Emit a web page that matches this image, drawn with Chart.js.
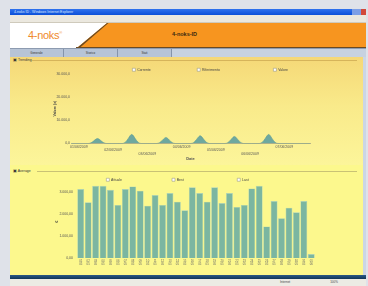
<!DOCTYPE html>
<html>
<head>
<meta charset="utf-8">
<script src="https://cdn.jsdelivr.net/npm/chart.js@4.4.1/dist/chart.umd.min.js"></script>
<style>
  html, body { margin: 0; padding: 0; }
  body { width: 368px; height: 286px; background: #dfe2e9; position: relative; overflow: hidden; font-family: "Liberation Sans", Arial, sans-serif; }
  .abs { position: absolute; }
  #titlebar { left: 10px; top: 9px; width: 356px; height: 6px; background: linear-gradient(#2f72ee, #0b4fd8); color: #dfe8ff; font-size: 3.5px; line-height: 6px; }
  #titlebar span { margin-left: 4px; }
  #winbtns { right: 0; top: 0; height: 6px; width: 14px; background: linear-gradient(90deg, #7d9fe6 0 66%, #d2493a 66%); }
  #toolbar { left: 10px; top: 15px; width: 356px; height: 8px; background: #ebe8df; border-bottom: 1px solid #cfcabc; box-sizing: border-box; }
  #header { left: 10px; top: 23px; width: 356px; height: 25px; background: #ffffff; overflow: hidden; }
  #orange { left: 0; top: 0; width: 356px; height: 24px; background: #f7951f; clip-path: polygon(97px 0, 356px 0, 356px 24px, 68px 24px); }
  #diag { left: 0; top: 0; width: 356px; height: 25px; background: #6b4a22; clip-path: polygon(97px 0, 98.5px 0, 69.5px 25px, 67px 25px); }
  #hline { left: 66px; top: 24px; width: 290px; height: 1px; background: #6b4a22; }
  #logo { left: 18px; top: 6px; color: #ef8a2c; font-size: 11px; letter-spacing: -0.3px; }
  #logo sup { font-size: 4px; }
  #apptitle { left: 162px; top: 7.5px; color: #3a2a10; font-size: 5.5px; font-weight: bold; }
  #tabs { left: 10px; top: 48px; width: 356px; height: 9px; background: #c7d2e0; border-top: 1px solid #8d9bb0; box-sizing: border-box; }
  .tab { top: 0; height: 8px; width: 53px; border-right: 1px solid #8594aa; background: #b7c4d6; color: #333; font-size: 3px; line-height: 8px; text-align: center; }
  #panel { left: 10px; top: 57px; width: 353px; height: 218px; background: #fcf88d; }
  #trend { left: 0; top: 0; width: 353px; height: 108px; background: linear-gradient(#f5d877, #f9ea8a 45%, #fcf59a); }
  .sect { font-size: 3.5px; color: #333; }
  .sline { height: 1px; }
  #scroll { left: 363px; top: 57px; width: 3px; height: 218px; background: #cbd6e6; }
  #bluebar { left: 10px; top: 275px; width: 356px; height: 4px; background: linear-gradient(#2a5a86, #0f3558); }
  #status { left: 10px; top: 279px; width: 356px; height: 7px; background: #ecebe4; font-size: 3px; color: #444; line-height: 7px; }
  canvas { display: block; }
</style>
</head>
<body>
<div id="titlebar" class="abs"><span>4-noks ID - Windows Internet Explorer</span><div id="winbtns" class="abs"></div></div>
<div id="toolbar" class="abs"></div>
<div id="header" class="abs">
  <div id="orange" class="abs"></div>
  <div id="diag" class="abs"></div>
  <div id="hline" class="abs"></div>
  <div id="logo" class="abs">4-noks<sup>®</sup></div>
  <div id="apptitle" class="abs">4-noks-ID</div>
</div>
<div id="tabs" class="abs">
  <div class="tab abs" style="left:0">Generale</div>
  <div class="tab abs" style="left:54px">Storico</div>
  <div class="tab abs" style="left:108px">Stati</div>
</div>
<div id="panel" class="abs">
  <div id="trend" class="abs"></div>
  <div class="sect abs" style="left:3px; top:1px">&#9635; Trending</div>
  <div class="sline abs" style="left:22px; top:3px; width:325px; background:#d6b45a"></div>
  <div class="sect abs" style="left:3px; top:112px">&#9635; Average</div>
  <div class="sline abs" style="left:27px; top:114px; width:320px; background:#c9c275"></div>
  <div class="abs" style="left:30px; top:10.25px; width:290px; height:96px"><canvas id="trendChart" width="290" height="96"></canvas></div>
  <div class="abs" style="left:30px; top:120.25px; width:290px; height:95px"><canvas id="avgChart" width="290" height="95"></canvas></div>
</div>
<div id="scroll" class="abs"></div>
<div id="bluebar" class="abs"></div>
<div id="status" class="abs"><span style="margin-left:270px">Internet</span><span style="margin-left:40px">100%</span></div>

<script>
// --- dati trend (energia giornaliera, campioni orari) ---
const trendDays = ['01/06/2009', '02/06/2009', '03/06/2009', '04/06/2009', '05/06/2009', '06/06/2009', '07/06/2009'];
const trendHours = [6.5, 8.5, 10.5, 12, 13, 14, 15.5, 17.5, 19.5];
const day1 = [0, 300, 1150, 1900, 2160, 1950, 1200, 320, 0];
const day2 = [0, 550, 2050, 3450, 3900, 3500, 2100, 580, 0];
const day3 = [0, 360, 1380, 2280, 2600, 2320, 1420, 380, 0];
const day4 = [0, 470, 1760, 2930, 3330, 2980, 1800, 490, 0];
const day5 = [0, 420, 1600, 2660, 3030, 2700, 1640, 440, 0];
const day6 = [0, 550, 2040, 3420, 3900, 3480, 2080, 570, 0];
const trendValues = [day1, day2, day3, day4, day5, day6];
const trendTicks = [0, 10000, 20000, 30000];

// --- dati media giornaliera ---
const avgDays = ['01','02','03','04','05','06','07','08','09','10','11','12','13','14','15','16',
                 '17','18','19','20','21','22','23','24','25','26','27','28','29','30','31','01'];
const avgMonths = ['05','05','05','05','05','05','05','05','05','05','05','05','05','05','05','05',
                   '05','05','05','05','05','05','05','05','05','05','05','05','05','05','05','06'];
const avgValues = [3120, 2520, 3270, 3270, 3090, 2400, 3120, 3240, 3050, 2370, 2850, 2400, 2940, 2550, 2160, 3200,
                   2940, 2550, 3200, 2490, 2940, 2310, 2400, 3150, 3270, 1430, 2580, 1800, 2280, 2070, 2580, 180];
const avgTicks = [0, 1000, 2000, 3000];

const teal = '#6ea89f';
const barColor = '#7bb6a1';
const tiny = { family: 'Liberation Sans, Arial, sans-serif', size: 3.5 };

function fmt(v, dec) {
    return v.toFixed(dec).replace('.', ',').replace(/\B(?=(\d{3})+(?!\d))/, '.');
}

// legenda con "checkbox" bianche; gaps = em-space dopo ogni voce
function checkboxLabels(gaps) {
    return function (chart) {
        const items = Chart.defaults.plugins.legend.labels.generateLabels(chart);
        return items.map((it, i) => ({
            ...it,
            text: it.text + '\u2003'.repeat(gaps[i] || 0),
            fillStyle: '#ffffff',
            strokeStyle: '#8a8a7a',
            lineWidth: 0.5
        }));
    };
}

// punti per il grafico trend
const trendPoints = [{ x: -0.23, y: 0 }];
trendValues.forEach((vals, d) => {
    vals.forEach((v, i) => trendPoints.push({ x: d + trendHours[i] / 24, y: v }));
});
trendPoints.push({ x: 6.75, y: 0 });

new Chart(document.getElementById('trendChart'), {
    type: 'line',
    data: {
        datasets: [
            { label: 'Corrente', data: trendPoints, borderColor: '#5f9d95', borderWidth: 0.6, backgroundColor: teal, fill: 'origin', pointRadius: 0, tension: 0.4 },
            { label: 'Riferimento', data: [], borderColor: '#999', backgroundColor: '#fff' },
            { label: 'Valore', data: [], borderColor: '#999', backgroundColor: '#fff' }
        ]
    },
    options: {
        responsive: false,
        animation: false,
        layout: { padding: { left: 0, right: 20, top: 0, bottom: 2 } },
        plugins: {
            legend: {
                align: 'end',
                maxHeight: 6.75,
                labels: { font: tiny, color: '#444', boxWidth: 3, boxHeight: 3, padding: 1, generateLabels: checkboxLabels([13, 15, 6]) }
            },
            tooltip: { enabled: false }
        },
        scales: {
            x: {
                type: 'linear',
                min: -0.23,
                max: 6.75,
                grid: { display: false, drawTicks: false },
                border: { display: true, color: '#8a8a80', width: 0.6 },
                ticks: {
                    stepSize: 1,
                    includeBounds: false,
                    autoSkip: false,
                    maxRotation: 0,
                    padding: 1.5,
                    font: { ...tiny, lineHeight: 1 },
                    color: '#555',
                    callback: (v) => {
                        const lbl = trendDays[v];
                        if (!lbl) return '';
                        const row = v % 3;
                        return [...Array(row).fill(''), lbl];
                    }
                },
                title: { display: true, text: 'Date', font: { ...tiny, size: 4, weight: 'bold' }, color: '#555', padding: 0 },
                afterFit: (s) => { s.height = 17.5; }
            },
            y: {
                min: 0,
                max: 30000,
                grid: { display: false, drawTicks: false },
                border: { display: false },
                afterBuildTicks: (s) => { s.ticks = trendTicks.map(v => ({ value: v })); },
                ticks: { font: tiny, color: '#555', padding: 1, callback: (v) => fmt(v, 1) },
                title: { display: true, text: 'Valore (x)', font: { ...tiny, weight: 'bold' }, color: '#444', padding: { top: 12.9, bottom: 0 } },
                afterFit: (s) => { s.width = 31; }
            }
        }
    }
});

new Chart(document.getElementById('avgChart'), {
    type: 'bar',
    data: {
        labels: avgDays.map((d, i) => [d, avgMonths[i]]),
        datasets: [
            { label: 'Attuale', data: avgValues, backgroundColor: barColor, borderColor: '#a9d2c0', borderWidth: 0.6, grouped: false, categoryPercentage: 0.92, barPercentage: 1 },
            { label: 'Best', data: [], borderColor: '#999', backgroundColor: '#fff', grouped: false },
            { label: 'Last', data: [], borderColor: '#999', backgroundColor: '#fff', grouped: false }
        ]
    },
    options: {
        responsive: false,
        animation: false,
        layout: { padding: { left: 0, right: 15, top: 0, bottom: 0 } },
        plugins: {
            legend: {
                maxHeight: 8.15,
                labels: { font: tiny, color: '#444', boxWidth: 3, boxHeight: 3, padding: 1, generateLabels: checkboxLabels([14, 15, 0]) }
            },
            tooltip: { enabled: false }
        },
        scales: {
            x: {
                grid: { display: false, drawTicks: false },
                border: { display: false },
                ticks: { autoSkip: false, maxRotation: 0, padding: 2, font: { ...tiny, size: 2.8, lineHeight: 1 }, color: '#666' },
                afterFit: (s) => { s.height = 14; }
            },
            y: {
                min: 0,
                max: 3300,
                grid: { display: false, drawTicks: false },
                border: { display: false },
                afterBuildTicks: (s) => { s.ticks = avgTicks.map(v => ({ value: v })); },
                ticks: { font: tiny, color: '#555', padding: 4, callback: (v) => fmt(v, 2) },
                title: { display: true, text: '€', font: { ...tiny, size: 4, weight: 'bold' }, color: '#333', padding: { top: 14.6, bottom: 0 } },
                afterFit: (s) => { s.width = 37; }
            }
        }
    }
});
</script>
</body>
</html>
